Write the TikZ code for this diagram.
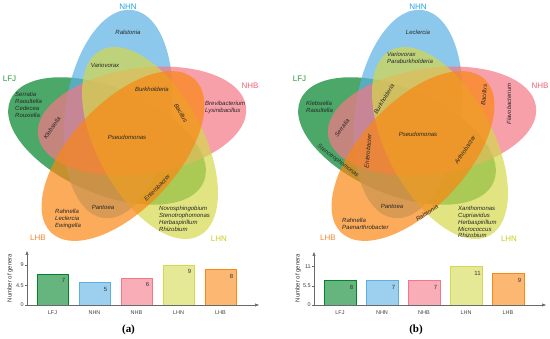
\documentclass[tikz,border=0pt]{standalone}
\usepackage{fontspec}
\setmainfont{Liberation Serif}
\setsansfont{Liberation Sans}
\usepackage{xcolor}
\usepackage{tikz}
\usetikzlibrary{
	arrows.meta,
	calc,
	positioning
}
\definecolor{LFJc}{RGB}{0,131,41}
\definecolor{NHNc}{RGB}{91,176,226}
\definecolor{NHBc}{RGB}{245,119,134}
\definecolor{LHNc}{RGB}{212,216,76}
\definecolor{LHBc}{RGB}{250,135,20}
\definecolor{LFJt}{RGB}{40,150,60}
\definecolor{NHNt}{RGB}{30,165,225}
\definecolor{NHBt}{RGB}{240,95,115}
\definecolor{LHNt}{RGB}{200,205,30}
\definecolor{LHBt}{RGB}{245,135,45}
\definecolor{AxisGray}{RGB}{105,105,105}

\tikzset{
	venn/.style={fill opacity=0.7},
	genus/.style={font=\sffamily\itshape\fontsize{6}{6.9}\selectfont, text=black!85, inner sep=0pt, align=left},
	setname/.style={font=\sffamily\fontsize{8}{9}\selectfont, inner sep=0pt},
	axisline/.style={draw=AxisGray, line width=0.6pt, -{Triangle[length=4pt,width=3pt]}},
	barbox/.style={line width=0.7pt, fill opacity=0.6},
	ticklab/.style={font=\sffamily\fontsize{5.5}{6}\selectfont, text=black!75, inner sep=0pt},
	barval/.style={font=\sffamily\fontsize{6}{7}\selectfont, text=black!80, inner sep=0pt},
	ylab/.style={font=\sffamily\fontsize{6}{7}\selectfont, text=black!80, inner sep=0pt, rotate=90},
	panel/.style={font=\bfseries\fontsize{11}{12}\selectfont, inner sep=0pt}
}

% 五个椭圆 + 集合名
\newcommand{\vennsets}[2]{%
	\begin{scope}[xshift=#2]
		\fill[venn, LFJc, rotate around={157:(107,141)}] (107,141) ellipse (105 and 53);
		\fill[venn, NHNc, rotate around={82:(118,114)}] (118,114) ellipse (105 and 53);
		\fill[venn, NHBc, rotate around={8:(142,121)}] (142,121) ellipse (105 and 53);
		\fill[venn, LHNc, rotate around={298:(150,143)}] (150,143) ellipse (105 and 53);
		\fill[venn, LHBc, rotate around={47:(123,156)}] (123,156) ellipse (105 and 53);
		\node[setname, text=NHNt] (#1-nhn) at (128,6.5) {NHN};
		\node[setname, text=LFJt] (#1-lfj) at (9.5,79) {LFJ};
		\node[setname, text=NHBt] (#1-nhb) at (250,85.5) {NHB};
		\node[setname, text=LHBt] (#1-lhb) at (38,238) {LHB};
		\node[setname, text=LHNt] (#1-lhn) at (219,238.5) {LHN};
	\end{scope}}

\begin{document}
\begin{tikzpicture}[x=1pt, y=-1pt]
	\useasboundingbox (0,0) rectangle (550,339);
	
	% 韦恩图 (a) (b)
	\vennsets{a}{0}
	\vennsets{b}{290}
	
	% (a) 属名
	\node[genus] (a-ral) at (128,32) {Ralstonia};
	\node[genus] (a-vario) at (105,65) {Variovorax};
	\node[genus] (a-burk) at (152,89) {Burkholderia};
	\node[genus, rotate=-60] (a-bac) at (181,113) {Bacillus};
	\node[genus, anchor=west] (a-brev) at (205,107.5) {Brevibacterium\\Lysinibacillus};
	\node[genus, anchor=west] (a-serr) at (15,105) {Serratia\\Raoultella\\Cedecea\\Rouxiella};
	\node[genus, rotate=56] (a-kleb) at (52,128) {Klebsiella};
	\node[genus] (a-pseu) at (127,137) {Pseudomonas};
	\node[genus, rotate=46] (a-ent) at (157,188) {Enterobacter};
	\node[genus] (a-pant) at (103,207) {Pantoea};
	\node[genus, anchor=west] (a-rahn) at (55,219) {Rahnella\\Leclercia\\Ewingella};
	\node[genus, anchor=west] (a-novo) at (159,219) {Novosphingobium\\Stenotrophomonas\\Herbaspirillum\\Rhizobium};
	
	% (b) 属名
	\node[genus] (b-lecl) at (418,32) {Leclercia};
	\node[genus, anchor=west] (b-vario) at (387,58) {Variovorax\\Paraburkholderia};
	\node[genus, anchor=west] (b-kleb) at (306,106.5) {Klebsiella\\Raoultella};
	\node[genus, rotate=54] (b-serr) at (342,128) {Serratia};
	\node[genus, rotate=59] (b-burk) at (384,99) {Burkholderia};
	\node[genus, rotate=85] (b-bac) at (484,95) {Bacillus};
	\node[genus, rotate=90] (b-flav) at (509,104) {Flavobacterium};
	\node[genus] (b-pseu) at (418,134) {Pseudomonas};
	\node[genus, rotate=85] (b-ent) at (368,151) {Enterobacter};
	\node[genus, rotate=56] (b-arth) at (465,150) {Arthrobacter};
	\node[genus, rotate=-38] (b-sten) at (338,161) {Stenotrophomonas};
	\node[genus] (b-pant) at (392,206) {Pantoea};
	\node[genus, rotate=32] (b-rals) at (427,213) {Ralstonia};
	\node[genus, anchor=west] (b-rahn) at (342,224) {Rahnella\\Paenarthrobacter};
	\node[genus, anchor=west] (b-xant) at (458,222) {Xanthomonas\\Cupriavidus\\Herbaspirillum\\Micrococcus\\Rhizobium};
	
	% 柱状图 (a)
	\foreach \v/\c/\n [count=\i] in {7/LFJc/LFJ, 5/NHNc/NHN, 6/NHBc/NHB, 9/LHNc/LHN, 8/LHBc/LHB}{
		\draw[barbox, draw=\c, fill=\c] ({37+42*(\i-1)},305) rectangle ({68+42*(\i-1)},{305-4.44*\v});
		\node[barval] (a-val\i) at ({63.5+42*(\i-1)},{311.5-4.44*\v}) {\v};
		\node[ticklab] (a-cat\i) at ({52.5+42*(\i-1)},313) {\n};
	}
	\coordinate (a-o) at (27,305);
	\coordinate (a-ytop) at (27,251);
	\coordinate (a-xend) at (259,305);
	\draw[axisline] (a-o) -- (a-ytop);
	\draw[axisline] (a-o) -- (a-xend);
	\foreach \y/\t [count=\k] in {305/0, 285.2/4.5, 265/9}{
		\draw[AxisGray, line width=0.6pt] (25,\y) -- (27,\y);
		\node[ticklab, anchor=east] (a-tick\k) at (24,\y) {\t};
	}
	\node[ylab] (a-ylab) at (10,278) {Number of genera};
	\node[panel] (a-lab) at (128.5,330) {(a)};
	
	% 柱状图 (b)
	\foreach \h/\v/\c/\n [count=\i] in {7/8/LFJc/LFJ, 7/7/NHNc/NHN, 7/7/NHBc/NHB, 11/11/LHNc/LHN, 9/9/LHBc/LHB}{
		\draw[barbox, draw=\c, fill=\c] ({324+42*(\i-1)},305) rectangle ({356+42*(\i-1)},{305-3.48*\h});
		\node[barval] (b-val\i) at ({351.5+42*(\i-1)},{311.5-3.48*\h}) {\v};
		\node[ticklab] (b-cat\i) at ({340+42*(\i-1)},313) {\n};
	}
	\coordinate (b-o) at (314,305);
	\coordinate (b-ytop) at (314,252);
	\coordinate (b-xend) at (546,305);
	\draw[axisline] (b-o) -- (b-ytop);
	\draw[axisline] (b-o) -- (b-xend);
	\foreach \y/\t [count=\k] in {305/0, 286/5.5, 266.7/11}{
		\draw[AxisGray, line width=0.6pt] (312,\y) -- (314,\y);
		\node[ticklab, anchor=east] (b-tick\k) at (311,\y) {\t};
	}
	\node[ylab] (b-ylab) at (298,278) {Number of genera};
	\node[panel] (b-lab) at (416,329.5) {(b)};
	
\end{tikzpicture}
\end{document}
